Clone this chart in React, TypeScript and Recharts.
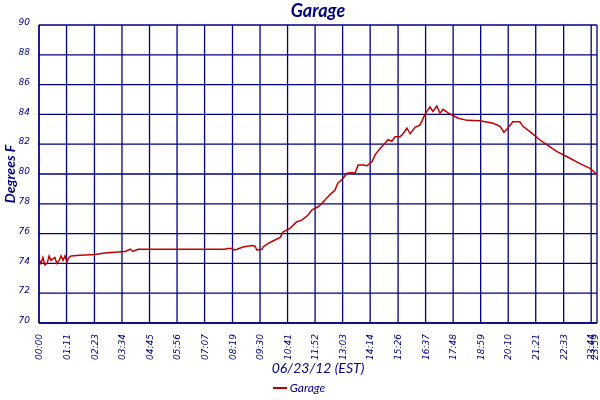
import React from 'react';
import { LineChart, Line, XAxis, YAxis, CartesianGrid, Legend } from 'recharts';

const NAVY = '#000080';
const RED = '#c00000';

// minutes after midnight
const minutes = [
  0, 5, 10, 15, 21, 26, 31, 36, 41, 46, 52, 57, 62, 67, 72, 77,
  83, 106, 144, 170, 196, 222, 235, 242, 255, 480, 485, 498, 503, 511,
  526, 549, 557, 562, 575, 578, 591, 603, 622, 629, 647, 665, 678, 694,
  704, 720, 732, 750, 763, 771, 784, 794, 807, 815, 823, 836, 846, 859,
  867, 879, 892, 900, 910, 918, 931, 939, 949, 957, 970, 983, 990, 996,
  1003, 1008, 1016, 1026, 1034, 1042, 1055, 1065, 1081, 1104, 1137, 1171,
  1189, 1199, 1210, 1222, 1240, 1248, 1266, 1292, 1310, 1336, 1362, 1395,
  1421, 1439,
];

const garageTemps = [
  74.3, 74.0, 74.4, 73.9, 74.0, 74.5, 74.2, 74.3, 74.4, 74.0, 74.2, 74.5, 74.2, 74.5, 74.1, 74.4,
  74.5, 74.55, 74.6, 74.7, 74.75, 74.8, 74.95, 74.8, 74.95, 74.95, 75.0, 75.0, 74.9, 74.95,
  75.1, 75.2, 75.15, 74.9, 74.95, 75.1, 75.35, 75.5, 75.75, 76.1, 76.35, 76.8, 76.9, 77.25,
  77.6, 77.8, 78.1, 78.6, 78.9, 79.4, 79.7, 80.05, 80.1, 80.05, 80.6, 80.6, 80.55, 80.83,
  81.3, 81.7, 82.06, 82.3, 82.2, 82.5, 82.5, 82.7, 83.07, 82.7, 83.13, 83.3, 83.7, 84.03,
  84.3, 84.5, 84.2, 84.56, 84.07, 84.34, 84.1, 83.96, 83.74, 83.6, 83.58, 83.4,
  83.2, 82.8, 83.1, 83.5, 83.5, 83.2, 82.84, 82.28, 81.95, 81.5, 81.16, 80.7,
  80.38, 79.98,
];

const xTickLabels = [
  '00:00', '01:11', '02:23', '03:34', '04:45', '05:56', '07:07', '08:19', '09:30', '10:41',
  '11:52', '13:03', '14:14', '15:26', '16:37', '17:48', '18:59', '20:10', '21:21', '22:33',
  '23:44', '23:59',
];

const yTicks = [70, 72, 74, 76, 78, 80, 82, 84, 86, 88, 90];

const toMin = (s: string) => {
  const [h, m] = s.split(':').map(Number);
  return h * 60 + m;
};
const xTicks = xTickLabels.map(toMin);
const labelByMin: Record<number, string> = {};
xTickLabels.forEach((l) => (labelByMin[toMin(l)] = l));

const data = minutes.map((m, i) => ({ minute: m, Garage: garageTemps[i] }));

const tickFont = { fontFamily: '"DejaVu Sans", Verdana, sans-serif', fontStyle: 'italic' as const, fontSize: 9, fill: NAVY };
const titleFont = 'Lato, "Open Sans", sans-serif';

const XTick = (props: any) => {
  const { x, y, payload } = props;
  const last = payload.value === 1439;
  return (
    <text
      transform={`translate(${last ? x - 2 : x},${y + 3}) rotate(-90)`}
      textAnchor="end"
      dy="0.35em"
      {...tickFont}
    >
      {labelByMin[payload.value] ?? ''}
    </text>
  );
};

const YTick = (props: any) => {
  const { x, y, payload } = props;
  return (
    <text x={x - 1} y={y - 3} textAnchor="end" dy="0.35em" {...tickFont}>
      {payload.value}
    </text>
  );
};

const YLabel = (props: any) => {
  const vb = props.viewBox || {};
  const cy = (vb.y ?? 25) + (vb.height ?? 298) / 2;
  return (
    <text
      transform={`translate(10,${cy}) rotate(-90)`}
      textAnchor="middle"
      dy="0.35em"
      style={{ fontFamily: titleFont, fontStyle: 'italic', fontWeight: 'bold', fontSize: 14, fill: NAVY }}
    >
      Degrees F
    </text>
  );
};

const LegendContent = () => (
  <div style={{ display: 'flex', justifyContent: 'center', alignItems: 'center', height: 25, paddingLeft: 0 }}>
    <svg width={16} height={10}>
      <line x1={1} y1={5} x2={15} y2={5} stroke={RED} strokeWidth={2} />
    </svg>
    <span style={{ fontFamily: titleFont, fontStyle: 'italic', fontSize: 12, color: NAVY, marginLeft: 2 }}>Garage</span>
  </div>
);

export default function App() {
  return (
    <div style={{ position: 'fixed', left: 0, top: 0, width: 600, height: 400, background: '#fff' }}>
      <div
        style={{
          position: 'absolute', left: 39, width: 558, top: 0, textAlign: 'center',
          fontFamily: titleFont, fontStyle: 'italic', fontWeight: 'bold', fontSize: 18, color: NAVY, lineHeight: '20px',
        }}
      >
        Garage
      </div>
      <LineChart width={600} height={400} data={data} margin={{ top: 25, right: 3, left: 0, bottom: 0 }}>
        <CartesianGrid stroke={NAVY} strokeWidth={1.3} horizontalValues={yTicks} verticalValues={xTicks} />
        <XAxis
          dataKey="minute"
          type="number"
          domain={[0, 1439]}
          ticks={xTicks}
          interval={0}
          tick={<XTick />}
          tickLine={false}
          axisLine={{ stroke: NAVY, strokeWidth: 1.3 }}
          height={52}
          label={{
            value: '06/23/12 (EST)',
            position: 'insideBottom',
            offset: 2,
            style: { fontFamily: titleFont, fontStyle: 'italic', fontSize: 14, fill: NAVY },
          }}
        />
        <YAxis
          type="number"
          domain={[70, 90]}
          ticks={yTicks}
          interval={0}
          tick={<YTick />}
          tickLine={false}
          axisLine={{ stroke: NAVY, strokeWidth: 1.3 }}
          width={39}
          label={<YLabel />}
        />
        <Legend verticalAlign="bottom" height={25} content={<LegendContent />} />
        <Line
          type="linear"
          dataKey="Garage"
          stroke={RED}
          strokeWidth={1.5}
          dot={false}
          isAnimationActive={false}
        />
      </LineChart>
    </div>
  );
}
